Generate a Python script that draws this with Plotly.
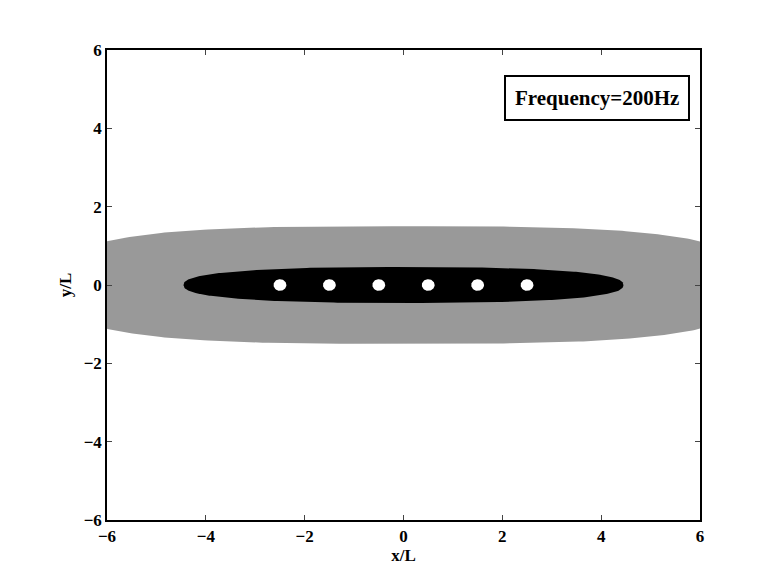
import numpy as np
import plotly.graph_objects as go

# region shapes: superellipse parameters (semi-axis x, semi-axis y, exponent)
outer_region = {"a": 7.0, "b": 1.5, "n": 3.2}
inner_region = {"a": 4.45, "b": 0.46, "n": 2.5}
source_x = [-2.5, -1.5, -0.5, 0.5, 1.5, 2.5]
source_y = [0, 0, 0, 0, 0, 0]
tick_vals = [-6, -4, -2, 0, 2, 4, 6]
label = "Frequency=200Hz"

def superellipse(a, b, n, cx=0.0, cy=0.0, m=400):
    t = np.linspace(0, 2*np.pi, m)
    c, s = np.cos(t), np.sin(t)
    x = cx + a*np.sign(c)*np.abs(c)**(2/n)
    y = cy + b*np.sign(s)*np.abs(s)**(2/n)
    return x, y

fig = go.Figure()
x, y = superellipse(**outer_region)
fig.add_trace(go.Scatter(x=x, y=y, fill="toself", fillcolor="#999999", line=dict(width=0), mode="lines", hoverinfo="skip"))
x, y = superellipse(**inner_region)
fig.add_trace(go.Scatter(x=x, y=y, fill="toself", fillcolor="black", line=dict(width=0), mode="lines", hoverinfo="skip"))
for sx, sy in zip(source_x, source_y):
    x, y = superellipse(0.13, 0.15, 2, sx, sy, 80)
    fig.add_trace(go.Scatter(x=x, y=y, fill="toself", fillcolor="white", line=dict(width=0), mode="lines", hoverinfo="skip"))

font = dict(family="Liberation Serif", size=17, color="black", weight="bold")
ax = dict(range=[-6, 6], tickvals=tick_vals, ticks="inside", ticklen=5, mirror="ticks",
          showline=True, linecolor="black", linewidth=1.5, showgrid=False, zeroline=False,
          tickfont=font, title_font=font, automargin=False)
fig.update_layout(
    width=766, height=575, showlegend=False,
    plot_bgcolor="white", paper_bgcolor="white",
    margin=dict(l=99, r=74, t=42, b=63),
    xaxis=dict(ax, title=dict(text="x/L", standoff=2)),
    yaxis=dict(ax, title=dict(text="y/L", standoff=8)),
    font=dict(family="Liberation Serif", size=17, color="black"),
    annotations=[dict(x=0.983, y=0.947, xref="paper", yref="paper", xanchor="right", yanchor="top",
                      text="<b>"+label+"</b>", showarrow=False, font=dict(family="Liberation Serif", size=21),
                      bordercolor="black", borderwidth=2, borderpad=9, bgcolor="white")],
)
fig.write_html("out.html")
